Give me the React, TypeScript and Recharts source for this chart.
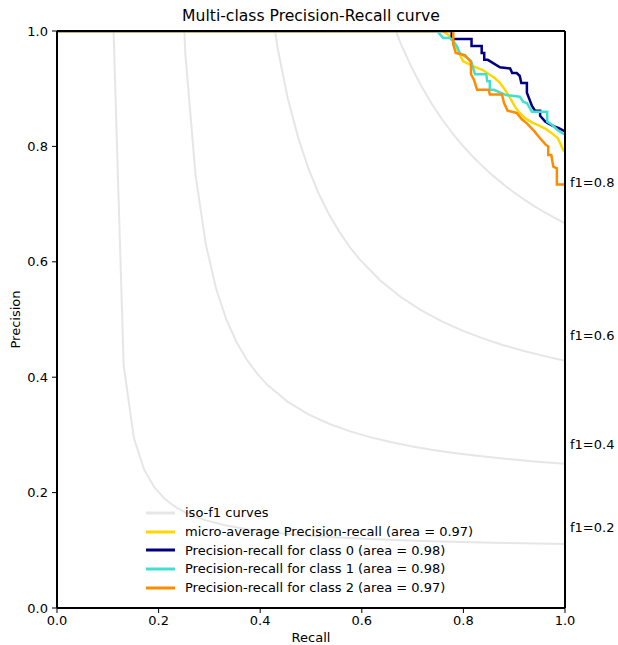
import React from 'react';
import { LineChart, Line, XAxis, YAxis, ReferenceLine, ReferenceDot } from 'recharts';

// iso-f1 reference curves, [recall, precision]
const isoF1Scores = ['f1=0.2', 'f1=0.4', 'f1=0.6', 'f1=0.8'];
const isoF1LabelPrecision = [0.14, 0.284, 0.473, 0.737];

const isoF1_02 = [
  [0.111, 1.009], [0.1312, 0.4205], [0.1514, 0.2946], [0.1716, 0.2397], [0.1918, 0.2089],
  [0.212, 0.1893], [0.2322, 0.1756], [0.2524, 0.1656], [0.2727, 0.1579], [0.2929, 0.1518],
  [0.3333, 0.1429], [0.3737, 0.1365], [0.4141, 0.1318], [0.4545, 0.1282], [0.4949, 0.1253],
  [0.5555, 0.122], [0.6161, 0.1194], [0.6767, 0.1173], [0.7373, 0.1157], [0.798, 0.1143],
  [0.8586, 0.1132], [0.9192, 0.1122], [1.0, 0.1111],
];
const isoF1_04 = [
  [0.2322, 1.442], [0.2524, 0.9634], [0.2727, 0.7502], [0.2929, 0.6306], [0.3131, 0.5537],
  [0.3333, 0.5001], [0.3535, 0.4606], [0.3737, 0.4303], [0.3939, 0.4063], [0.4141, 0.3868],
  [0.4545, 0.3572], [0.4949, 0.3356], [0.5353, 0.3193], [0.5757, 0.3065], [0.6161, 0.2961],
  [0.6565, 0.2876], [0.6969, 0.2805], [0.7373, 0.2744], [0.7778, 0.2692], [0.8182, 0.2647],
  [0.8586, 0.2607], [0.899, 0.2572], [0.9394, 0.2541], [0.9798, 0.2513], [1.0, 0.25],
];
const isoF1_06 = [
  [0.4141, 1.0888], [0.4343, 0.9701], [0.4545, 0.8825], [0.4747, 0.8152], [0.4949, 0.7618],
  [0.5151, 0.7184], [0.5353, 0.6825], [0.5555, 0.6523], [0.5757, 0.6264], [0.5959, 0.6042],
  [0.6363, 0.5676], [0.6767, 0.5389], [0.7171, 0.5158], [0.7576, 0.4967], [0.798, 0.4807],
  [0.8384, 0.4672], [0.8788, 0.4555], [0.9192, 0.4453], [0.9596, 0.4365], [1.0, 0.4286],
];
const isoF1_08 = [
  [0.6565, 1.0238], [0.6767, 0.9782], [0.6969, 0.9389], [0.7171, 0.9046], [0.7373, 0.8744],
  [0.7576, 0.8474], [0.7778, 0.8235], [0.798, 0.802], [0.8182, 0.7826], [0.8384, 0.765],
  [0.8586, 0.7489], [0.8788, 0.7342], [0.899, 0.7206], [0.9192, 0.7082], [0.9394, 0.6966],
  [0.9596, 0.6859], [0.9798, 0.676], [1.0, 0.6667],
];

// precision-recall curves
const microAvg = [
  [0, 1], [0.76, 1], [0.778, 0.988], [0.789, 0.967], [0.799, 0.948], [0.819, 0.939],
  [0.839, 0.932], [0.862, 0.918], [0.872, 0.91], [0.882, 0.898], [0.892, 0.884],
  [0.902, 0.868], [0.911, 0.858], [0.921, 0.849], [0.934, 0.842], [0.947, 0.837],
  [0.961, 0.831], [0.974, 0.823], [0.986, 0.814], [0.997, 0.793], [1.0, 0.792],
];
const class0 = [
  [0, 1], [0.777, 1], [0.777, 0.986], [0.816, 0.986], [0.816, 0.974], [0.836, 0.974],
  [0.836, 0.962], [0.841, 0.962], [0.841, 0.95], [0.848, 0.95], [0.872, 0.937],
  [0.892, 0.935], [0.896, 0.927], [0.905, 0.927], [0.911, 0.922], [0.914, 0.91],
  [0.925, 0.91], [0.925, 0.893], [0.935, 0.87], [0.941, 0.862], [0.951, 0.862],
  [0.951, 0.853], [0.961, 0.843], [0.967, 0.84], [0.977, 0.835], [0.987, 0.832], [1.0, 0.826],
];
const class1 = [
  [0, 1], [0.748, 1], [0.76, 0.988], [0.774, 0.988], [0.787, 0.974], [0.793, 0.962],
  [0.81, 0.952], [0.815, 0.948], [0.823, 0.925], [0.845, 0.925], [0.847, 0.913],
  [0.852, 0.913], [0.852, 0.898], [0.86, 0.898], [0.884, 0.889], [0.911, 0.886],
  [0.918, 0.877], [0.925, 0.875], [0.935, 0.86], [0.965, 0.86], [0.965, 0.843],
  [0.975, 0.837], [0.987, 0.827], [0.997, 0.822], [1.0, 0.822],
];
const class2 = [
  [0, 1], [0.78, 1], [0.78, 0.977], [0.785, 0.962], [0.803, 0.958], [0.815, 0.946],
  [0.815, 0.925], [0.821, 0.915], [0.827, 0.898], [0.85, 0.898], [0.852, 0.89],
  [0.876, 0.89], [0.88, 0.875], [0.887, 0.862], [0.905, 0.858], [0.915, 0.847],
  [0.925, 0.84], [0.94, 0.826], [0.95, 0.815], [0.962, 0.803], [0.967, 0.8],
  [0.967, 0.785], [0.973, 0.785], [0.977, 0.765], [0.984, 0.762], [0.984, 0.734], [1.0, 0.734],
];

const ticks = [0, 0.2, 0.4, 0.6, 0.8, 1.0];

const legendLabels = [
  'iso-f1 curves',
  'micro-average Precision-recall (area = 0.97)',
  'Precision-recall for class 0 (area = 0.98)',
  'Precision-recall for class 1 (area = 0.98)',
  'Precision-recall for class 2 (area = 0.97)',
];

const ISO_COLOR = 'rgba(128,128,128,0.2)';
const curveColors = ['gold', 'navy', 'turquoise', 'darkorange'];
const legendColors = ['#e6e6e6', ...curveColors];

const toPoints = (arr: number[][]) => arr.map(([r, p]) => ({ r, p }));

const isoCurves = [isoF1_02, isoF1_04, isoF1_06, isoF1_08].map(toPoints);
const prCurves = [microAvg, class0, class1, class2].map(toPoints);

const FONT = "'DejaVu Sans', sans-serif";
const FS = 13;
const tickStyle = { fill: '#000', fontSize: FS };

export default function App() {
  return (
    <div style={{ position: 'absolute', left: 0, top: 0, width: 618, height: 645, fontFamily: FONT, background: '#fff' }}>
      <div style={{ position: 'absolute', left: 57, width: 508, top: 6, textAlign: 'center', fontSize: 15.6, lineHeight: '20px', color: '#000' }}>
        Multi-class Precision-Recall curve
      </div>
      <LineChart width={618} height={645} margin={{ top: 31, right: 53, bottom: 0, left: 0 }}>
        <XAxis
          type="number"
          dataKey="r"
          domain={[0, 1]}
          ticks={ticks}
          allowDataOverflow
          tickFormatter={(v: number) => v.toFixed(1)}
          tick={tickStyle}
          tickSize={5}
          tickMargin={3}
          height={37}
          axisLine={{ stroke: '#000', strokeWidth: 2 }}
          tickLine={{ stroke: '#000' }}
          label={{ value: 'Recall', position: 'insideBottom', offset: 3, fill: '#000', fontSize: FS }}
        />
        <YAxis
          type="number"
          dataKey="p"
          domain={[0, 1]}
          ticks={ticks}
          allowDataOverflow
          tickFormatter={(v: number) => v.toFixed(1)}
          tick={tickStyle}
          tickSize={5}
          tickMargin={4}
          width={57}
          axisLine={{ stroke: '#000', strokeWidth: 2 }}
          tickLine={{ stroke: '#000' }}
          label={{ value: 'Precision', angle: -90, position: 'insideLeft', offset: 15, fill: '#000', fontSize: FS, style: { textAnchor: 'middle' } }}
        />
        {isoCurves.map((d, i) => (
          <Line
            key={'iso' + i}
            data={d}
            dataKey="p"
            type="linear"
            stroke={ISO_COLOR}
            strokeWidth={2}
            dot={false}
            activeDot={false}
            isAnimationActive={false}
          />
        ))}
        {prCurves.map((d, i) => (
          <Line
            key={'pr' + i}
            data={d}
            dataKey="p"
            type="linear"
            stroke={curveColors[i]}
            strokeWidth={2.5}
            dot={false}
            activeDot={false}
            isAnimationActive={false}
          />
        ))}
        <ReferenceLine y={1} stroke="#000" strokeWidth={2} />
        <ReferenceLine x={1} stroke="#000" strokeWidth={2} />
        {isoF1Scores.map((s, i) => (
          <ReferenceDot
            key={s}
            x={1}
            y={isoF1LabelPrecision[i]}
            r={0}
            stroke="none"
            fill="none"
            label={{ value: s, position: 'right', offset: 5, fill: '#000', fontSize: FS }}
          />
        ))}
      </LineChart>
      <div style={{ position: 'absolute', left: 146, top: 503.5, fontSize: FS, color: '#000' }}>
        {legendLabels.map((label, i) => (
          <div key={label} style={{ display: 'flex', alignItems: 'center', height: 18.7 }}>
            <svg width={29} height={6} style={{ marginRight: 10 }}>
              <line x1={0} y1={3} x2={29} y2={3} stroke={legendColors[i]} strokeWidth={3} />
            </svg>
            <span style={{ whiteSpace: 'nowrap' }}>{label}</span>
          </div>
        ))}
      </div>
    </div>
  );
}
